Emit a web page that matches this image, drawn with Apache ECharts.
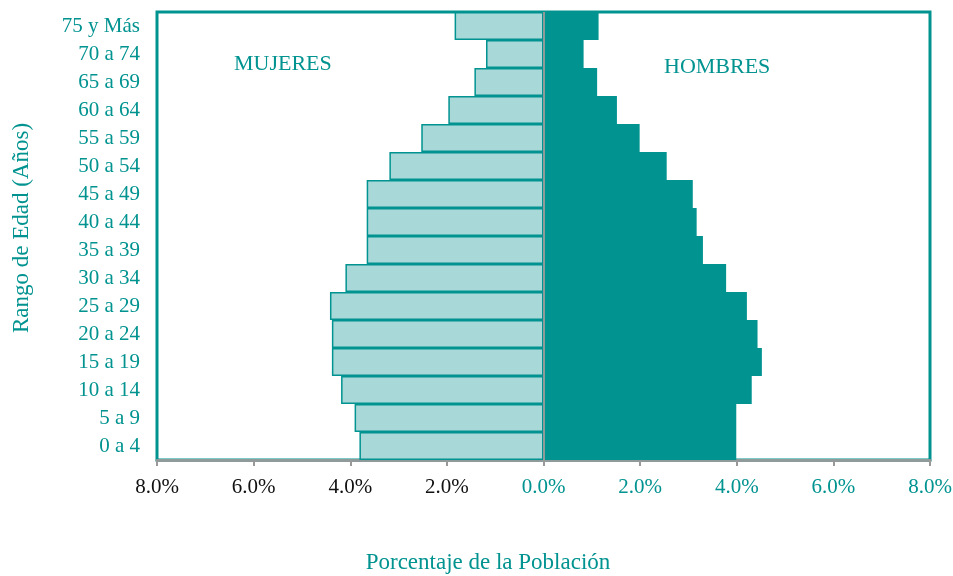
<!DOCTYPE html>
<html>
<head>
<meta charset="utf-8">
<script src="https://cdn.jsdelivr.net/npm/echarts@6/dist/echarts.min.js"></script>
<style>
  html, body { margin: 0; padding: 0; background: #fff; }
  #main { width: 953px; height: 576px; }
</style>
</head>
<body>
<div id="main"></div>
<script>
// grupos de edad (de abajo hacia arriba)
var categorias = ['0 a 4', '5 a 9', '10 a 14', '15 a 19', '20 a 24', '25 a 29', '30 a 34', '35 a 39',
  '40 a 44', '45 a 49', '50 a 54', '55 a 59', '60 a 64', '65 a 69', '70 a 74', '75 y Más'];
// porcentaje de la población
var mujeres = [3.81, 3.91, 4.19, 4.38, 4.38, 4.42, 4.10, 3.66, 3.66, 3.66, 3.19, 2.53, 1.97, 1.43, 1.19, 1.84];
var hombres = [3.99, 3.99, 4.31, 4.52, 4.43, 4.21, 3.78, 3.30, 3.17, 3.09, 2.55, 1.99, 1.52, 1.11, 0.83, 1.14];

var teal = '#009390';
var serif = '"Liberation Serif", "DejaVu Serif", serif';

var myChart = echarts.init(document.getElementById('main'));
myChart.setOption({
  animation: false,
  textStyle: { fontFamily: serif },
  grid: {
    left: 157, right: 23, top: 12, bottom: 116,
    outerBoundsMode: 'none',
    show: true, borderColor: teal, borderWidth: 3, backgroundColor: '#fff'
  },
  xAxis: {
    type: 'value',
    min: -8, max: 8, interval: 2,
    splitLine: { show: false },
    axisLine: { show: true, lineStyle: { color: '#8f9a9a', width: 3 } },
    axisTick: { show: true, length: 6, lineStyle: { color: '#999', width: 2 } },
    axisLabel: {
      margin: 17,
      fontSize: 21,
      fontFamily: serif,
      formatter: function (v) {
        var t = Math.abs(v).toFixed(1) + '%';
        return v < 0 ? '{n|' + t + '}' : '{t|' + t + '}';
      },
      rich: {
        n: { color: '#111', fontSize: 21, fontFamily: serif },
        t: { color: teal, fontSize: 21, fontFamily: serif }
      }
    }
  },
  yAxis: {
    type: 'category',
    data: categorias,
    axisLine: { show: false },
    axisTick: { show: false },
    axisLabel: { color: teal, fontSize: 21, fontFamily: serif, margin: 17 }
  },
  series: [
    {
      name: 'Mujeres',
      type: 'bar',
      stack: 'pir',
      barCategoryGap: '0%',
      data: mujeres.map(function (v) { return -v; }),
      itemStyle: { color: '#a8d9d8', borderColor: teal, borderWidth: 1.5 },
      markLine: {
        silent: true,
        symbol: 'none',
        label: { show: false },
        lineStyle: { color: '#8f9a9a', type: 'solid', width: 2 },
        data: [{ xAxis: 0 }]
      }
    },
    {
      name: 'Hombres',
      type: 'bar',
      stack: 'pir',
      barCategoryGap: '0%',
      data: hombres,
      itemStyle: { color: teal, borderWidth: 0 }
    }
  ],
  graphic: [
    { type: 'text', left: 234, top: 53, style: { text: 'MUJERES', fill: teal, font: '22px ' + serif } },
    { type: 'text', left: 664, top: 56, style: { text: 'HOMBRES', fill: teal, font: '22px ' + serif } },
    { type: 'text', x: 488, y: 563, style: { text: 'Porcentaje de la Población', fill: teal, font: '23px ' + serif, align: 'center', verticalAlign: 'middle' } },
    { type: 'text', x: 22, y: 228, rotation: Math.PI / 2, style: { text: 'Rango de Edad (Años)', fill: teal, font: '23px ' + serif, align: 'center', verticalAlign: 'middle' } }
  ]
});
</script>
</body>
</html>
